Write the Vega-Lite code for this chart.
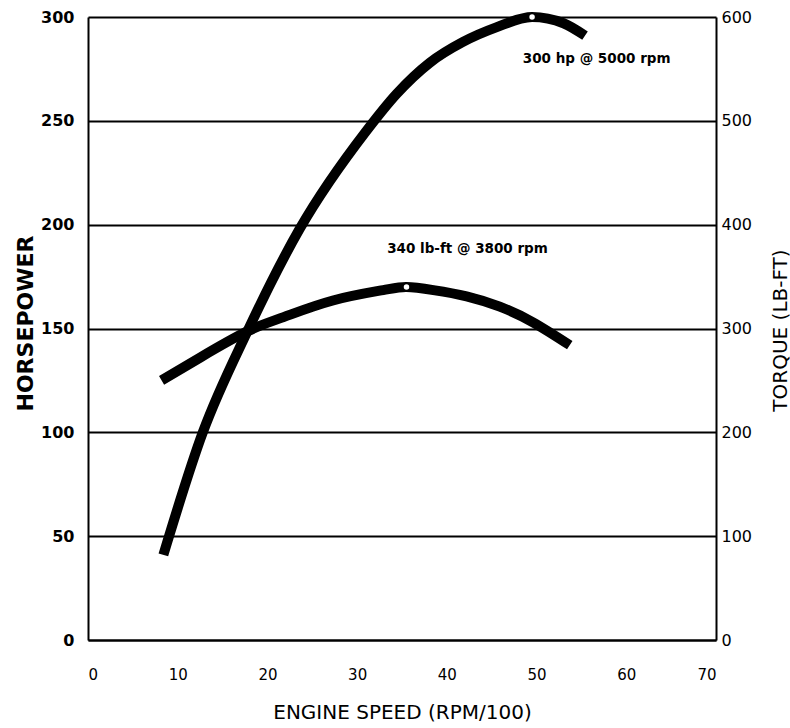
{
  "$schema": "https://vega.github.io/schema/vega-lite/v6.json",
  "width": 628,
  "height": 623,
  "autosize": "none",
  "padding": {"left": 88, "top": 17, "right": 74, "bottom": 88},
  "background": "white",
  "config": {"view": {"stroke": null}, "font": "DejaVu Sans"},
  "layer": [
    {
      "encoding": {
        "x": {
          "field": "rpm", "type": "quantitative",
          "scale": {"domain": [0, 70], "nice": false},
          "axis": {
            "orient": "bottom", "values": [0, 10, 20, 30, 40, 50, 60, 70],
            "grid": false, "ticks": false, "domain": true, "domainColor": "black", "domainWidth": 2,
            "labelFont": "DejaVu Sans", "labelFontSize": 15, "labelColor": "black", "labelPadding": 27,
            "title": "ENGINE SPEED (RPM/100)", "titleFont": "DejaVu Sans", "titleFontSize": 20, "titleFontWeight": "normal",
            "titleColor": "black", "titleY": 72, "titleBaseline": "middle"
          }
        },
        "y": {
          "field": "hp", "type": "quantitative",
          "scale": {"domain": [0, 300], "nice": false},
          "axis": {
            "orient": "left", "values": [0, 50, 100, 150, 200, 250, 300],
            "grid": true, "gridColor": "black", "gridWidth": 2, "gridOpacity": 1,
            "ticks": false, "domain": true, "domainColor": "black", "domainWidth": 2,
            "labelFont": "DejaVu Sans", "labelFontSize": 16, "labelFontWeight": "bold", "labelColor": "black", "labelPadding": 14,
            "title": "HORSEPOWER", "titleFont": "DejaVu Sans", "titleFontSize": 22, "titleFontWeight": "bold", "titleColor": "black",
            "titleAngle": -90, "titleX": -63, "titleY": 306, "titleBaseline": "middle", "titleAlign": "center"
          }
        }
      },
      "layer": [
        {
          "data": {"values": [
            {"rpm": 8.4, "hp": 41}, {"rpm": 12.8, "hp": 100}, {"rpm": 17.7, "hp": 148}, {"rpm": 23.6, "hp": 198},
            {"rpm": 31, "hp": 245}, {"rpm": 34.4, "hp": 263}, {"rpm": 38.1, "hp": 278}, {"rpm": 41.8, "hp": 288},
            {"rpm": 45.5, "hp": 295}, {"rpm": 49.5, "hp": 300}, {"rpm": 53, "hp": 297}, {"rpm": 55.4, "hp": 291}
          ]},
          "mark": {"type": "line", "color": "black", "strokeWidth": 10, "interpolate": "monotone", "strokeCap": "butt"}
        },
        {
          "data": {"values": [{"rpm": 49.5, "hp": 300}]},
          "mark": {"type": "point", "filled": true, "color": "white", "size": 30, "opacity": 1}
        },
        {
          "data": {"values": [{"rpm": 56.7, "hp": 280, "label": "300 hp @ 5000 rpm"}]},
          "mark": {"type": "text", "font": "DejaVu Sans", "fontSize": 13.5, "fontWeight": "bold", "color": "black", "align": "center", "baseline": "middle"},
          "encoding": {"text": {"field": "label"}}
        }
      ]
    },
    {
      "encoding": {
        "x": {"field": "rpm", "type": "quantitative", "scale": {"domain": [0, 70], "nice": false}},
        "y": {
          "field": "torque", "type": "quantitative",
          "scale": {"domain": [0, 600], "nice": false},
          "axis": {
            "orient": "right", "values": [0, 100, 200, 300, 400, 500, 600],
            "grid": false, "ticks": false, "domain": true, "domainColor": "black", "domainWidth": 2,
            "labelFont": "DejaVu Sans", "labelFontSize": 16, "labelColor": "black", "labelPadding": 5,
            "title": "TORQUE (LB-FT)", "titleFont": "DejaVu Sans", "titleFontSize": 20, "titleFontWeight": "normal", "titleColor": "black",
            "titleAngle": -90, "titleX": 64, "titleY": 313, "titleBaseline": "middle", "titleAlign": "center"
          }
        }
      },
      "layer": [
        {
          "data": {"values": [
            {"rpm": 8.2, "torque": 250}, {"rpm": 12.5, "torque": 272}, {"rpm": 17.7, "torque": 297},
            {"rpm": 21.8, "torque": 311}, {"rpm": 27.3, "torque": 327}, {"rpm": 32.9, "torque": 337},
            {"rpm": 35.5, "torque": 340}, {"rpm": 38.5, "torque": 337}, {"rpm": 42.2, "torque": 331},
            {"rpm": 45.9, "torque": 321}, {"rpm": 49.6, "torque": 306}, {"rpm": 53.7, "torque": 284}
          ]},
          "mark": {"type": "line", "color": "black", "strokeWidth": 10, "interpolate": "natural", "strokeCap": "butt"}
        },
        {
          "data": {"values": [{"rpm": 35.5, "torque": 340}]},
          "mark": {"type": "point", "filled": true, "color": "white", "size": 30, "opacity": 1}
        },
        {
          "data": {"values": [{"rpm": 42.3, "torque": 377, "label": "340 lb-ft @ 3800 rpm"}]},
          "mark": {"type": "text", "font": "DejaVu Sans", "fontSize": 13.5, "fontWeight": "bold", "color": "black", "align": "center", "baseline": "middle"},
          "encoding": {"text": {"field": "label"}}
        }
      ]
    }
  ],
  "resolve": {"scale": {"y": "independent"}}
}
